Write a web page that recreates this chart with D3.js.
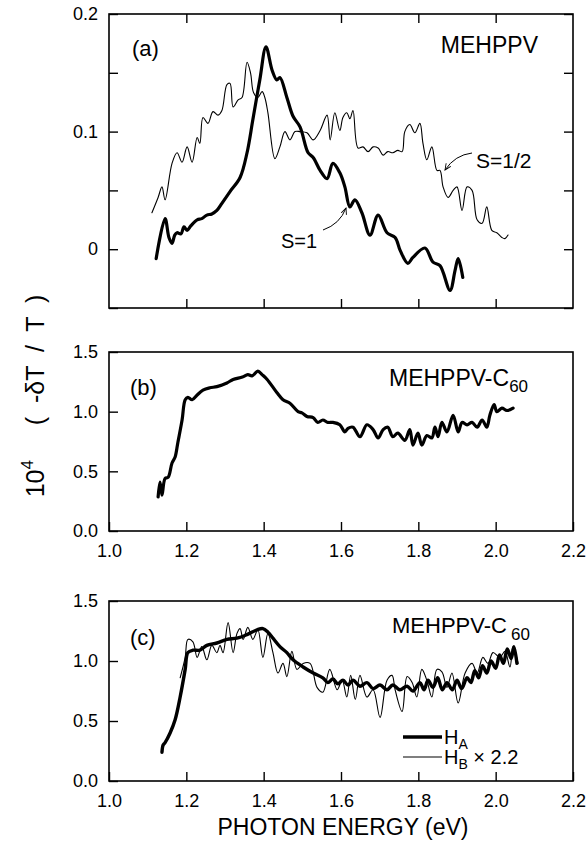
<!DOCTYPE html>
<html>
<head>
<meta charset="utf-8">
<script src="https://cdn.jsdelivr.net/npm/d3@7"></script>
<style>
  body { margin: 0; background: #fff; }
  svg text { font-family: "Liberation Sans", Arial, sans-serif; fill: #000; }
</style>
</head>
<body>
<div id="chart"></div>
<script>
// photon energy axis (eV)
var energyTicks = [1.0, 1.2, 1.4, 1.6, 1.8, 2.0, 2.2];
var ticksA = [-0.05, 0, 0.05, 0.1, 0.15, 0.2];
var labelsA = [0, 0.1, 0.2];
var ticksBC = [0, 0.5, 1.0, 1.5];

// panel (a) MEHPPV, S=1/2 (thin)
var halfSpin = [[1.111,0.031],[1.127,0.044],[1.137,0.053],[1.145,0.042],[1.163,0.073],[1.176,0.082],[1.189,0.074],
  [1.202,0.087],[1.215,0.074],[1.228,0.095],[1.235,0.090],[1.243,0.112],[1.256,0.107],[1.269,0.117],[1.282,0.114],
  [1.292,0.118],[1.305,0.140],[1.313,0.141],[1.321,0.121],[1.334,0.127],[1.344,0.129],[1.357,0.159],[1.366,0.150],
  [1.374,0.133],[1.385,0.129],[1.396,0.134],[1.403,0.129],[1.411,0.116],[1.429,0.077],[1.442,0.087],[1.455,0.100],
  [1.468,0.093],[1.481,0.100],[1.494,0.100],[1.512,0.099],[1.528,0.093],[1.546,0.101],[1.564,0.114],[1.572,0.093],
  [1.584,0.116],[1.597,0.101],[1.605,0.112],[1.615,0.116],[1.623,0.111],[1.631,0.118],[1.644,0.086],[1.657,0.087],
  [1.670,0.083],[1.683,0.087],[1.696,0.086],[1.709,0.080],[1.721,0.083],[1.734,0.082],[1.747,0.084],[1.758,0.083],
  [1.765,0.100],[1.778,0.106],[1.791,0.099],[1.804,0.107],[1.812,0.090],[1.822,0.076],[1.835,0.087],[1.848,0.067],
  [1.856,0.067],[1.864,0.053],[1.877,0.044],[1.890,0.050],[1.900,0.053],[1.913,0.033],[1.926,0.053],[1.939,0.050],
  [1.952,0.025],[1.965,0.022],[1.977,0.036],[1.990,0.016],[2.003,0.014],[2.016,0.010],[2.024,0.009],[2.032,0.012]];

// panel (a) MEHPPV, S=1 (thick)
var oneSpin = [[1.122,-0.008],[1.145,0.026],[1.155,0.010],[1.163,0.005],[1.170,0.012],[1.176,0.014],[1.186,0.013],
  [1.194,0.019],[1.202,0.016],[1.212,0.020],[1.228,0.025],[1.240,0.026],[1.253,0.029],[1.266,0.030],[1.279,0.033],
  [1.292,0.039],[1.313,0.049],[1.339,0.061],[1.357,0.082],[1.372,0.110],[1.390,0.144],[1.406,0.172],[1.422,0.152],
  [1.434,0.144],[1.442,0.146],[1.460,0.129],[1.476,0.113],[1.494,0.104],[1.515,0.082],[1.528,0.078],[1.546,0.067],
  [1.564,0.060],[1.579,0.073],[1.597,0.065],[1.610,0.053],[1.623,0.036],[1.636,0.042],[1.654,0.031],[1.675,0.012],
  [1.696,0.029],[1.719,0.014],[1.740,0.010],[1.753,-0.001],[1.773,-0.012],[1.786,-0.007],[1.817,0.001],[1.838,-0.011],
  [1.856,-0.014],[1.882,-0.035],[1.895,-0.018],[1.903,-0.008],[1.915,-0.024]];

// panel (b) MEHPPV-C60
var blendB = [[1.127,0.285],[1.132,0.41],[1.137,0.30],[1.145,0.44],[1.153,0.45],[1.163,0.57],[1.171,0.62],[1.178,0.74],
  [1.189,0.93],[1.197,1.10],[1.204,1.12],[1.215,1.10],[1.228,1.14],[1.243,1.18],[1.261,1.20],[1.279,1.21],[1.305,1.24],
  [1.321,1.27],[1.345,1.29],[1.359,1.31],[1.370,1.30],[1.385,1.34],[1.396,1.31],[1.409,1.27],[1.434,1.16],[1.450,1.10],
  [1.468,1.07],[1.489,1.00],[1.499,0.99],[1.512,0.96],[1.528,0.95],[1.540,0.91],[1.553,0.93],[1.566,0.91],[1.579,0.91],
  [1.597,0.89],[1.610,0.83],[1.618,0.86],[1.631,0.87],[1.649,0.79],[1.667,0.89],[1.683,0.85],[1.696,0.78],[1.709,0.85],
  [1.721,0.87],[1.734,0.79],[1.747,0.82],[1.765,0.76],[1.778,0.85],[1.786,0.72],[1.799,0.82],[1.809,0.72],[1.822,0.80],
  [1.835,0.78],[1.843,0.87],[1.851,0.79],[1.861,0.91],[1.874,0.83],[1.890,0.97],[1.903,0.83],[1.913,0.91],[1.926,0.89],
  [1.939,0.91],[1.952,0.87],[1.965,0.93],[1.977,0.87],[1.985,0.97],[1.996,1.06],[2.003,1.00],[2.016,1.03],[2.029,1.01],
  [2.045,1.03]];

// panel (c) MEHPPV-C60, H_A (thick)
var hA = [[1.137,0.24],[1.140,0.30],[1.145,0.32],[1.158,0.40],[1.171,0.51],[1.184,0.70],[1.197,0.93],[1.204,1.07],
  [1.217,1.09],[1.235,1.09],[1.253,1.13],[1.279,1.15],[1.305,1.18],[1.331,1.19],[1.357,1.22],[1.383,1.26],[1.398,1.27],
  [1.411,1.24],[1.424,1.19],[1.442,1.12],[1.460,1.07],[1.476,1.01],[1.502,0.95],[1.528,0.90],[1.553,0.86],[1.566,0.82],
  [1.579,0.85],[1.592,0.81],[1.605,0.84],[1.618,0.80],[1.631,0.84],[1.649,0.79],[1.667,0.82],[1.683,0.77],[1.701,0.80],
  [1.719,0.76],[1.734,0.80],[1.752,0.76],[1.771,0.79],[1.786,0.75],[1.804,0.82],[1.815,0.76],[1.825,0.84],[1.838,0.78],
  [1.850,0.86],[1.862,0.76],[1.874,0.82],[1.888,0.76],[1.900,0.84],[1.912,0.77],[1.926,0.86],[1.936,0.82],[1.946,0.92],
  [1.956,0.86],[1.966,0.96],[1.977,0.90],[1.988,1.00],[2.000,0.94],[2.010,1.05],[2.020,0.98],[2.030,1.10],[2.040,1.02],
  [2.047,1.12],[2.055,0.98]];

// panel (c) H_B x 2.2 (thin)
var hB = [[1.184,0.86],[1.197,1.03],[1.204,1.18],[1.217,1.16],[1.228,1.03],[1.240,1.12],[1.253,1.01],[1.266,1.13],
  [1.279,1.07],[1.287,1.13],[1.295,1.07],[1.308,1.32],[1.321,1.07],[1.331,1.23],[1.339,1.27],[1.347,1.18],[1.359,1.28],
  [1.372,1.18],[1.385,1.26],[1.398,1.03],[1.411,1.23],[1.424,1.07],[1.437,0.90],[1.450,0.98],[1.460,0.87],[1.473,1.08],
  [1.486,0.93],[1.502,0.98],[1.520,0.98],[1.538,0.78],[1.553,0.74],[1.571,0.93],[1.590,0.76],[1.603,0.84],[1.615,0.70],
  [1.625,0.88],[1.637,0.68],[1.649,0.88],[1.667,0.70],[1.683,0.76],[1.701,0.53],[1.719,0.84],[1.732,0.88],[1.740,0.76],
  [1.758,0.58],[1.771,0.87],[1.784,0.82],[1.796,0.70],[1.809,0.93],[1.822,0.84],[1.835,0.70],[1.848,0.93],[1.861,0.91],
  [1.874,0.78],[1.887,0.90],[1.903,0.65],[1.921,0.90],[1.939,0.98],[1.952,0.90],[1.967,1.03],[1.980,0.98],[1.993,1.07],
  [2.011,1.03],[2.024,1.08],[2.037,0.95],[2.045,1.12],[2.058,0.98]];

function init() {
    var w = 587, h = 842;
    var left = 109, right = 573;

    var svg = d3.select("#chart").append("svg")
                .attr("width", w)
                .attr("height", h);

    var defs = svg.append("defs");
    defs.append("marker")
        .attr("id", "arrow")
        .attr("viewBox", "0 0 10 10")
        .attr("refX", 9).attr("refY", 5)
        .attr("markerWidth", 7).attr("markerHeight", 7)
        .attr("orient", "auto")
        .append("path")
        .attr("d", "M0,1 L9,5 L0,9")
        .attr("fill", "none")
        .attr("stroke", "#000")
        .attr("stroke-width", 1.3);

    var xScale = d3.scaleLinear().domain([1.0, 2.2]).range([left, right]);

    var line = function(yScale) {
        return d3.line()
                 .x(function(d) { return xScale(d[0]); })
                 .y(function(d) { return yScale(d[1]); })
                 .curve(d3.curveCatmullRom.alpha(0.5));
    };

    function panel(top, bottom, domain, yTicks, yLabels, fmt, xLabels, rightTicks) {
        var yScale = d3.scaleLinear().domain(domain).range([bottom, top]);
        var g = svg.append("g");

        // Left axis, ticks inward
        g.append("g")
         .attr("transform", "translate(" + left + ",0)")
         .call(d3.axisLeft(yScale).tickValues(yTicks).tickSize(-9).tickPadding(11)
               .tickFormat(function(v) { return yLabels.some(function(l) { return Math.abs(l - v) < 1e-9; }) ? fmt(v) : ""; }))
         .call(styleAxis);

        // Bottom axis, ticks inward
        g.append("g")
         .attr("transform", "translate(0," + bottom + ")")
         .call(d3.axisBottom(xScale).tickValues(energyTicks.slice(1, -1).concat(xLabels ? [1.0, 2.2] : []))
               .tickSize(-9).tickPadding(xLabels ? 13 : 0)
               .tickFormat(function(v) { return xLabels ? d3.format(".1f")(v) : ""; }))
         .call(styleAxis);

        if (rightTicks) {
            g.append("g")
             .attr("transform", "translate(" + right + ",0)")
             .call(d3.axisRight(yScale).tickValues(yTicks).tickSize(-9).tickFormat(""))
             .call(styleAxis);
            g.append("g")
             .attr("transform", "translate(0," + top + ")")
             .call(d3.axisTop(xScale).tickValues(energyTicks.slice(1, -1)).tickSize(-9).tickFormat(""))
             .call(styleAxis);
        }

        // frame
        g.append("rect")
         .attr("x", left).attr("y", top)
         .attr("width", right - left).attr("height", bottom - top)
         .attr("fill", "none").attr("stroke", "#000").attr("stroke-width", 1.6);

        return yScale;
    }

    function styleAxis(sel) {
        sel.attr("font-size", 18);
        sel.select(".domain").remove();
        sel.selectAll(".tick line").attr("stroke", "#000").attr("stroke-width", 1.4);
        sel.selectAll(".tick text").attr("font-size", 18).attr("fill", "#000")
           .style("font-family", "'Liberation Sans', Arial, sans-serif");
    }

    function drawCurve(data, yScale, width) {
        svg.append("path")
           .datum(data)
           .attr("d", line(yScale))
           .attr("fill", "none")
           .attr("stroke", "#000")
           .attr("stroke-width", width)
           .attr("stroke-linejoin", "round")
           .attr("stroke-linecap", "round");
    }

    // Panel (a)
    var yA = panel(14, 308, [-0.05, 0.2], ticksA, labelsA,
                   function(v) { return v === 0 ? "0" : d3.format(".1f")(v); }, false, true);
    drawCurve(halfSpin, yA, 1.1);
    drawCurve(oneSpin, yA, 3.2);

    // Panel (b)
    var yB = panel(352, 531, [0, 1.5], ticksBC, ticksBC, d3.format(".1f"), true, false);
    drawCurve(blendB, yB, 3.2);

    // Panel (c)
    var yC = panel(601, 781, [0, 1.5], ticksBC, ticksBC, d3.format(".1f"), true, false);
    drawCurve(hB, yC, 1.1);
    drawCurve(hA, yC, 3.4);

    // Panel labels
    svg.append("text").attr("x", 132).attr("y", 56).attr("font-size", 22).text("(a)");
    svg.append("text").attr("x", 130).attr("y", 395).attr("font-size", 22).text("(b)");
    svg.append("text").attr("x", 130).attr("y", 645).attr("font-size", 22).text("(c)");

    svg.append("text").attr("x", 538).attr("y", 53).attr("font-size", 23)
       .attr("text-anchor", "end").text("MEHPPV");

    var tb = svg.append("text").attr("x", 389).attr("y", 386).attr("font-size", 23);
    tb.append("tspan").text("MEHPPV-C");
    tb.append("tspan").attr("font-size", 17).attr("dy", 6).text("60");

    var tc = svg.append("text").attr("x", 392).attr("y", 633).attr("font-size", 22);
    tc.append("tspan").text("MEHPPV-C");
    tc.append("tspan").attr("font-size", 17).attr("dx", 4).attr("dy", 7).text("60");

    // S annotations
    svg.append("text").attr("x", 476).attr("y", 168).attr("font-size", 21).text("S=1/2");
    svg.append("path").attr("d", "M472,153 Q455,155 445,170")
       .attr("fill", "none").attr("stroke", "#000").attr("stroke-width", 1)
       .attr("marker-end", "url(#arrow)");
    svg.append("text").attr("x", 281).attr("y", 248).attr("font-size", 20).text("S=1");
    svg.append("path").attr("d", "M323,230 Q340,224 346,208")
       .attr("fill", "none").attr("stroke", "#000").attr("stroke-width", 1)
       .attr("marker-end", "url(#arrow)");

    // Legend panel (c)
    svg.append("line").attr("x1", 403).attr("x2", 442).attr("y1", 737).attr("y2", 737)
       .attr("stroke", "#000").attr("stroke-width", 3.4);
    svg.append("line").attr("x1", 403).attr("x2", 442).attr("y1", 757).attr("y2", 757)
       .attr("stroke", "#000").attr("stroke-width", 1.1);
    var la = svg.append("text").attr("x", 444).attr("y", 744).attr("font-size", 20);
    la.append("tspan").text("H");
    la.append("tspan").attr("font-size", 14).attr("dy", 5).text("A");
    var lb = svg.append("text").attr("x", 444).attr("y", 764).attr("font-size", 20);
    lb.append("tspan").text("H");
    lb.append("tspan").attr("font-size", 14).attr("dy", 5).text("B");
    lb.append("tspan").attr("dy", -5).text(" \u00d7 2.2");

    // Axis titles
    svg.append("text").attr("x", 343).attr("y", 835)
       .attr("text-anchor", "middle").attr("font-size", 23).text("PHOTON ENERGY (eV)");

    var yt = svg.append("text")
                .attr("transform", "translate(44,396) rotate(-90)")
                .attr("text-anchor", "middle")
                .attr("font-size", 25)
                .style("white-space", "pre");
    yt.append("tspan").text("10");
    yt.append("tspan").attr("font-size", 17).attr("dy", -11).text("4");
    yt.append("tspan").attr("dy", 11).text("     (  -\u03b4T  /  T  )");
}

window.onload = init;
</script>
</body>
</html>
